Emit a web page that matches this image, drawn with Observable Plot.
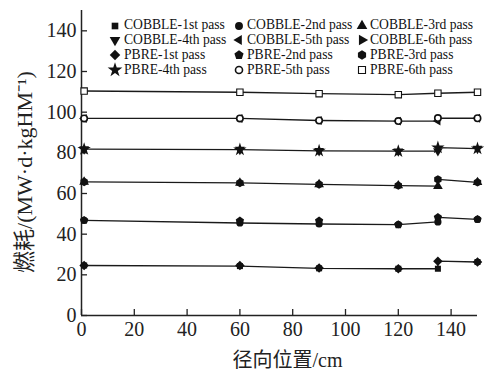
<!DOCTYPE html>
<html><head><meta charset="utf-8">
<script src="https://cdn.jsdelivr.net/npm/d3@7"></script>
<script src="https://cdn.jsdelivr.net/npm/@observablehq/plot@0.6"></script>
<style>
body{margin:0;background:#fff;}
#chart{position:relative;width:486px;height:370px;overflow:hidden;}
.leg{position:absolute;font-family:"Liberation Serif",serif;font-size:13.6px;color:#111;white-space:nowrap;line-height:1;}
.legsym{position:absolute;}
</style></head><body><div id="chart"></div><script>
// ---- data ----
const positions = [1, 60, 90, 120, 135, 150];
const passNames = ["1st", "2nd", "3rd", "4th", "5th", "6th"];
const cobble1st = [24.6, 24.3, 23.2, 23.0, 23.0, 26.3];
const cobble2nd = [46.8, 45.5, 45.0, 44.7, 46.0, 47.3];
const cobble3rd = [65.7, 65.2, 64.5, 63.9, 63.6, 65.5];
const cobble4th = [81.8, 81.6, 81.0, 80.8, 80.9, 82.1];
const cobble5th = [96.9, 96.9, 95.9, 95.6, 95.6, 97.0];
const cobble6th = [110.4, 109.8, 109.1, 108.6, 109.3, 109.8];
const pbre1st = [24.6, 24.6, 23.4, 23.0, 26.7, 26.3];
const pbre2nd = [46.8, 46.5, 46.6, 44.7, 48.3, 47.3];
const pbre3rd = [65.7, 65.2, 64.5, 63.9, 66.9, 65.5];
const pbre4th = [81.8, 81.6, 81.0, 80.8, 82.6, 82.1];
const pbre5th = [96.9, 96.9, 95.9, 95.6, 97.1, 97.0];
const pbre6th = [110.4, 109.8, 109.1, 108.6, 109.3, 109.8];
const xTicks = [0, 20, 40, 60, 80, 100, 120, 140];
const yTicks = [0, 20, 40, 60, 80, 100, 120, 140];
const xLabel = "径向位置/cm";
const yLabel = "燃耗/(MW·d·kgHM⁻¹)";

// ---- symbols ----
function poly(n, rot) {
  return {draw(ctx, size) {
    const r = Math.sqrt(size / (n / 2 * Math.sin(2 * Math.PI / n)));
    for (let i = 0; i < n; i++) {
      const a = rot + i * 2 * Math.PI / n;
      const px = r * Math.sin(a), py = -r * Math.cos(a);
      if (i) ctx.lineTo(px, py); else ctx.moveTo(px, py);
    }
    ctx.closePath();
  }};
}
const cobbleSeries = [cobble1st, cobble2nd, cobble3rd, cobble4th, cobble5th, cobble6th];
const pbreSeries = [pbre1st, pbre2nd, pbre3rd, pbre4th, pbre5th, pbre6th];
const cobbleStyle = [
  {symbol: d3.symbolSquare, r: 3.4},
  {symbol: d3.symbolCircle, r: 3.6},
  {symbol: poly(3, 0), r: 3.6},
  {symbol: poly(3, Math.PI), r: 3.6},
  {symbol: poly(3, -Math.PI / 2), r: 3.3},
  {symbol: poly(3, Math.PI / 2), r: 2.2}
];
const pbreStyle = [
  {symbol: poly(4, 0), r: 3.8, fill: "#111"},
  {symbol: poly(5, 0), r: 3.8, fill: "#111"},
  {symbol: poly(6, 0), r: 3.9, fill: "#111"},
  {symbol: d3.symbolStar, r: 4.2, fill: "#111"},
  {symbol: d3.symbolCircle, r: 3.2, fill: "#fff", stroke: "#111", strokeWidth: 1.6},
  {symbol: d3.symbolSquare, r: 3.6, fill: "#fff", stroke: "#111", strokeWidth: 1.1}
];

const cobbleRows = [], pbreRows = [], lineRows = [];
passNames.forEach((p, k) => {
  positions.forEach((x, i) => {
    cobbleRows.push({pass: p, x, y: cobbleSeries[k][i]});
    pbreRows.push({pass: p, x, y: pbreSeries[k][i]});
  });
  positions.forEach((x, i) => { if (x <= 135) lineRows.push({pass: p, x, y: cobbleSeries[k][i]}); });
  positions.forEach((x, i) => { if (x >= 135) lineRows.push({pass: p, x, y: pbreSeries[k][i]}); });
});

const marks = [
  Plot.axisX({ticks: xTicks, tickSize: 0, tickPadding: 6, label: null}),
  Plot.axisY({ticks: yTicks, tickSize: 0, tickPadding: 5, label: null}),
  Plot.ruleX(xTicks, {x: d => d, y1: 0, y2: 0, insetTop: -6, stroke: "#222", strokeWidth: 1.3}),
  Plot.ruleY(yTicks, {y: d => d, x1: 0, x2: 0, insetRight: -6, stroke: "#222", strokeWidth: 1.3}),
  Plot.ruleX([0], {stroke: "#222", strokeWidth: 1.5}),
  Plot.ruleY([0], {stroke: "#222", strokeWidth: 1.5}),
  Plot.line(lineRows, {x: "x", y: "y", z: "pass", stroke: "#1a1a1a", strokeWidth: 1.3})
];
passNames.forEach((p, k) => {
  const s = cobbleStyle[k];
  marks.push(Plot.dot(cobbleRows.filter(d => d.pass === p), {x: "x", y: "y", symbol: s.symbol, r: s.r, fill: "#111", stroke: "none"}));
});
passNames.forEach((p, k) => {
  const s = pbreStyle[k];
  marks.push(Plot.dot(pbreRows.filter(d => d.pass === p), {x: "x", y: "y", symbol: s.symbol, r: s.r, fill: s.fill, stroke: s.stroke || "none", strokeWidth: s.strokeWidth || 1}));
});
marks.push(Plot.text([yLabel], {frameAnchor: "left", textAnchor: "middle", lineAnchor: "middle", rotate: -90, dx: -57, dy: 9, fontSize: 22, fill: "#222"}));
marks.push(Plot.text([xLabel], {frameAnchor: "bottom", textAnchor: "middle", lineAnchor: "middle", dy: 45, dx: 8, fontSize: 20, fill: "#222"}));

const chart = Plot.plot({
  width: 486, height: 370,
  marginLeft: 81, marginRight: 9, marginTop: 10, marginBottom: 55,
  x: {domain: [0, 150]},
  y: {domain: [0, 150]},
  style: {fontFamily: '"Liberation Serif", "Noto Sans CJK SC", serif', fontSize: "20px", color: "#222", background: "#fff"},
  marks
});
const root = document.getElementById("chart");
root.appendChild(chart);

// ---- legend (HTML overlay) ----
const order = [];
passNames.forEach((p, k) => order.push({label: `COBBLE-${p} pass`, style: {...cobbleStyle[k], r: k === 5 ? 3.6 : cobbleStyle[k].r}}));
passNames.forEach((p, k) => order.push({label: `PBRE-${p} pass`, style: pbreStyle[k]}));
const colSym = [115, 239, 361.5], colText = [124, 247, 370];
const legFont = 13.6;
order.forEach((it, i) => {
  const row = Math.floor(i / 3), col = i % 3;
  const cy = 25.6 + row * 14.8;
  const sz = 16;
  const rr = it.style.r * 1.1;
  const svg = d3.create("svg").attr("class", "legsym").attr("width", sz).attr("height", sz)
    .style("left", (colSym[col] - sz / 2) + "px").style("top", (cy - sz / 2) + "px");
  svg.append("path")
    .attr("transform", `translate(${sz / 2},${sz / 2})`)
    .attr("d", d3.symbol().type(it.style.symbol).size(Math.PI * rr * rr)())
    .attr("fill", it.style.fill || "#111")
    .attr("stroke", it.style.stroke || "none")
    .attr("stroke-width", it.style.strokeWidth || 1);
  root.appendChild(svg.node());
  const t = document.createElement("div");
  t.className = "leg";
  t.textContent = it.label;
  t.style.left = colText[col] + "px";
  t.style.top = (cy - legFont * 0.55) + "px";
  root.appendChild(t);
});
</script></body></html>
